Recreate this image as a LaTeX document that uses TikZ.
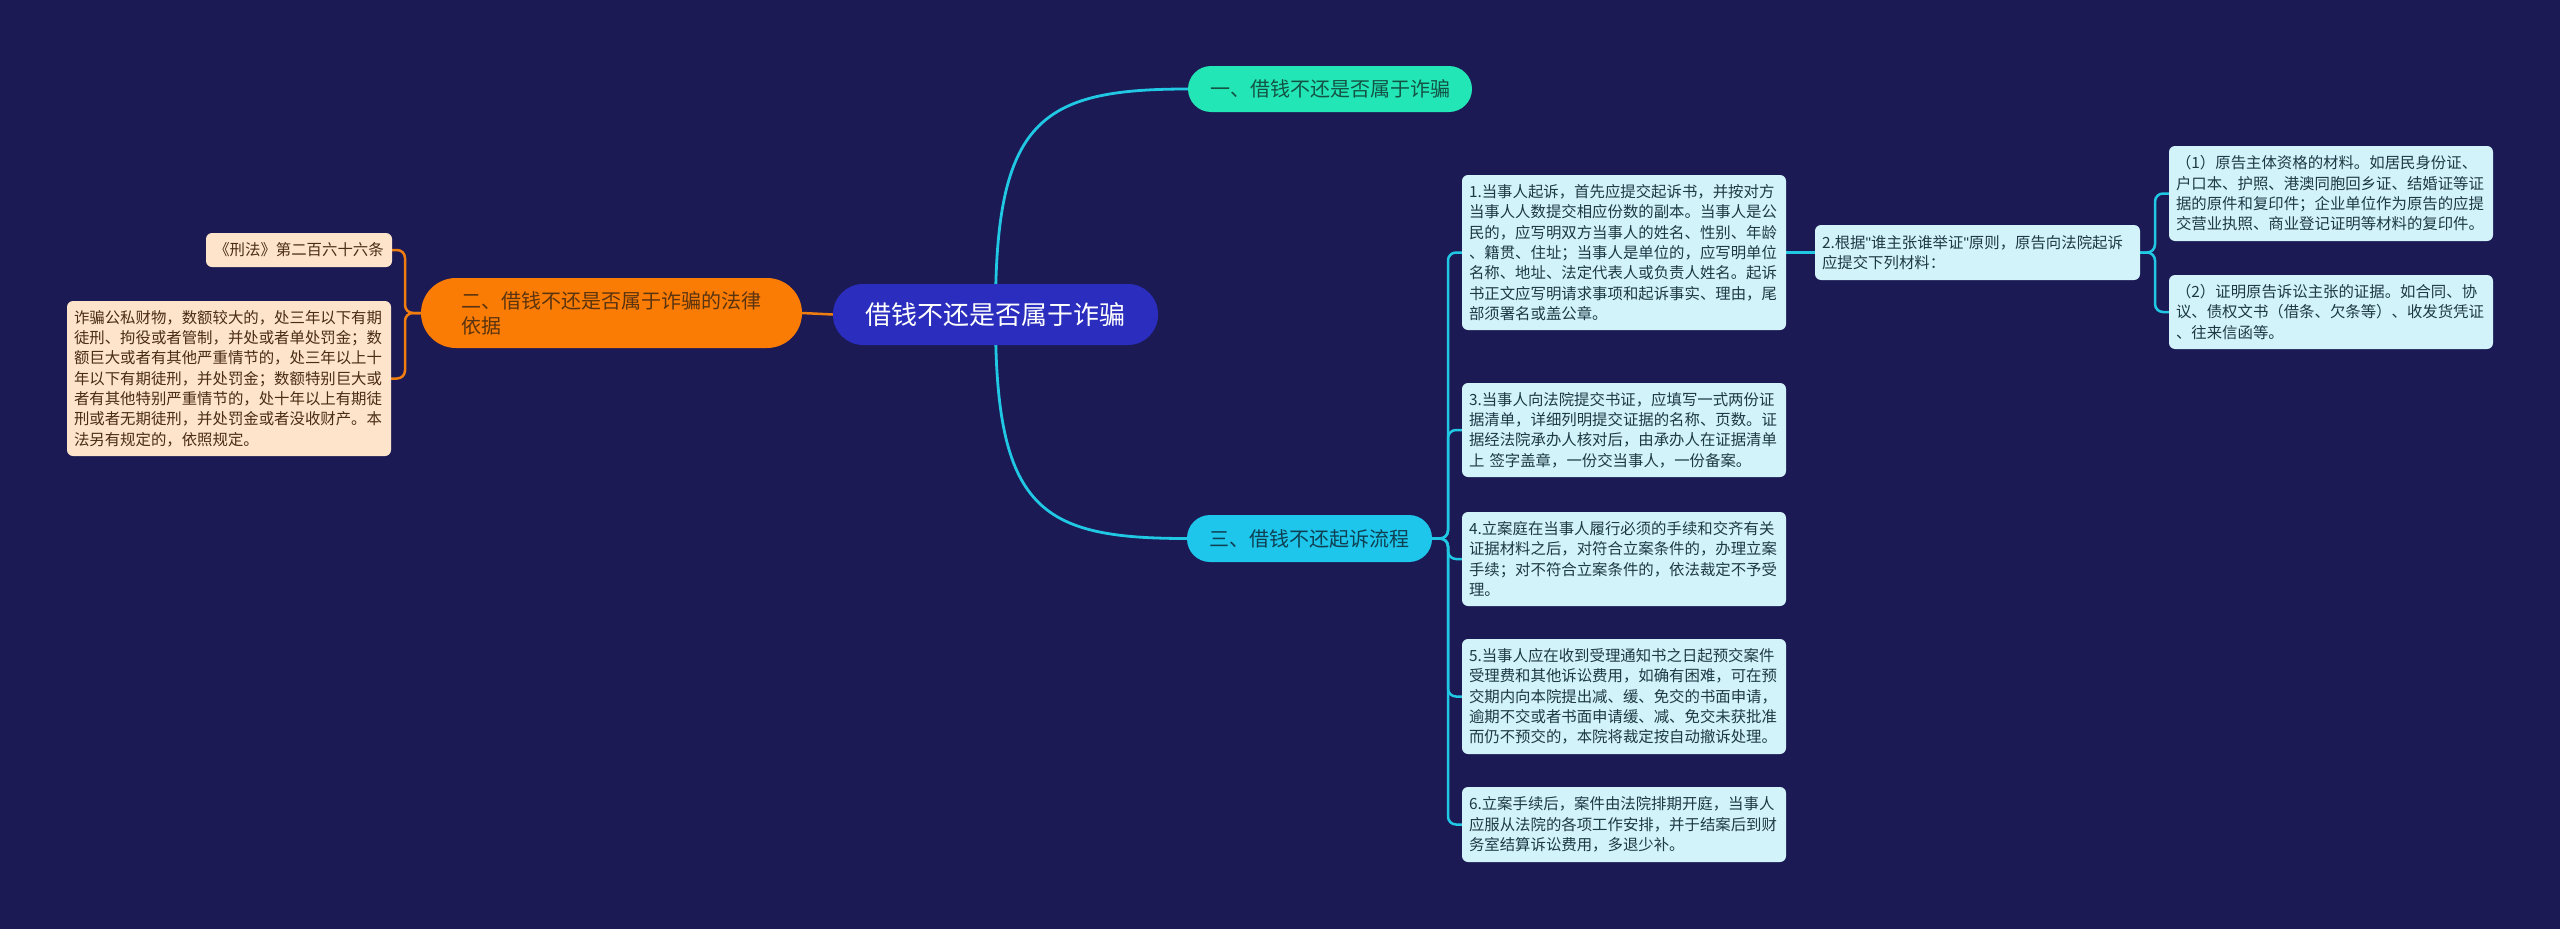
\documentclass[tikz,border=0pt]{standalone}
\usepackage{fontspec}
\setmainfont{Noto Sans CJK SC}
\newfontfamily\latinq[Ligatures=NoCommon]{Liberation Sans}
\definecolor{bgc}{HTML}{1B1A54}
\definecolor{rootc}{HTML}{2A2DBD}
\definecolor{tealc}{HTML}{22E6B5}
\definecolor{tealtext}{HTML}{145244}
\definecolor{cyanc}{HTML}{1DC6EA}
\definecolor{cyantext}{HTML}{0F3F52}
\definecolor{orangec}{HTML}{FB7C04}
\definecolor{orangetext}{HTML}{5A3410}
\definecolor{leafR}{HTML}{D3F3FB}
\definecolor{leafRtext}{HTML}{1D3A44}
\definecolor{leafL}{HTML}{FDE4CA}
\definecolor{leafLtext}{HTML}{4A2E14}
\definecolor{linec}{HTML}{21C8E4}
\definecolor{olinec}{HTML}{F07D10}
\newcommand{\sq}{{\latinq\symbol{34}}}
\pgfdeclarelayer{back}
\pgfdeclarelayer{bg}
\pgfsetlayers{back,bg,main}
\tikzset{
  rootbox/.style={fill=rootc, text=white, rounded corners=30pt, font=\fontsize{26}{31}\selectfont, minimum width=325pt, minimum height=61pt, inner sep=0pt},
  mainbr/.style={rounded corners=23pt, font=\fontsize{20}{25}\selectfont, inner sep=0pt},
  rleaf/.style={fill=leafR, text=leafRtext, rounded corners=6pt, font=\fontsize{15.4}{20.3}\selectfont, align=left, text width=310pt, inner xsep=7pt, inner ysep=0pt},
  lleaf/.style={fill=leafL, text=leafLtext, rounded corners=6pt, font=\fontsize{15.4}{20.3}\selectfont, align=left, inner xsep=7pt, inner ysep=0pt},
  cline/.style={draw=linec, line width=2.5pt, rounded corners=8pt},
  oline/.style={draw=olinec, line width=2.5pt, rounded corners=8pt},
}
\begin{document}
\begin{tikzpicture}[x=1pt,y=-1pt]
\begin{pgfonlayer}{back}
\fill[bgc] (0,0) rectangle (2560,929);
\end{pgfonlayer}
\useasboundingbox (0,0) rectangle (2560,929);

\node[rootbox] (root) at (995.5,314.5) {借钱不还是否属于诈骗};
\node[mainbr, fill=tealc, text=tealtext, minimum width=284pt, minimum height=46pt] (b1) at (1330,89) {一、借钱不还是否属于诈骗};
\node[mainbr, fill=cyanc, text=cyantext, minimum width=245pt, minimum height=47pt] (b3) at (1309.5,538.5) {三、借钱不还起诉流程};
\node[mainbr, rounded corners=35pt, fill=orangec, text=orangetext, minimum height=70pt, text width=300pt, align=left, inner xsep=40.5pt, font=\fontsize{20}{25}\selectfont] (b2) at (611.5,313) {二、借钱不还是否属于诈骗的法律\\依据};

\node[lleaf, minimum width=186pt, minimum height=34pt] (ls) at (299,250) {《刑法》第二百六十六条};
\node[lleaf, text width=310pt, minimum height=155pt] (lb) at (229,378.5) {诈骗公私财物，数额较大的，处三年以下有期\\徒刑、拘役或者管制，并处或者单处罚金；数\\额巨大或者有其他严重情节的，处三年以上十\\年以下有期徒刑，并处罚金；数额特别巨大或\\者有其他特别严重情节的，处十年以上有期徒\\刑或者无期徒刑，并处罚金或者没收财产。本\\法另有规定的，依照规定。};

\node[rleaf, minimum height=155pt] (r1) at (1624,252.5) {1.当事人起诉，首先应提交起诉书，并按对方\\当事人人数提交相应份数的副本。当事人是公\\民的，应写明双方当事人的姓名、性别、年龄\\、籍贯、住址；当事人是单位的，应写明单位\\名称、地址、法定代表人或负责人姓名。起诉\\书正文应写明请求事项和起诉事实、理由，尾\\部须署名或盖公章。};
\node[rleaf, text width=311pt, minimum height=55pt] (r2) at (1977.5,252.5) {2.根据\sq 谁主张谁举证\sq 原则，原告向法院起诉\\应提交下列材料：};
\node[rleaf, minimum height=95pt] (c1) at (2331,193.5) {（1）原告主体资格的材料。如居民身份证、\\户口本、护照、港澳同胞回乡证、结婚证等证\\据的原件和复印件；企业单位作为原告的应提\\交营业执照、商业登记证明等材料的复印件。};
\node[rleaf, minimum height=74pt] (c2) at (2331,312) {（2）证明原告诉讼主张的证据。如合同、协\\议、债权文书（借条、欠条等）、收发货凭证\\、往来信函等。};
\node[rleaf, minimum height=94pt] (r3) at (1624,430) {3.当事人向法院提交书证，应填写一式两份证\\据清单，详细列明提交证据的名称、页数。证\\据经法院承办人核对后，由承办人在证据清单\\上 签字盖章，一份交当事人，一份备案。};
\node[rleaf, minimum height=94pt] (r4) at (1624,559) {4.立案庭在当事人履行必须的手续和交齐有关\\证据材料之后，对符合立案条件的，办理立案\\手续；对不符合立案条件的，依法裁定不予受\\理。};
\node[rleaf, minimum height=115pt] (r5) at (1624,696.5) {5.当事人应在收到受理通知书之日起预交案件\\受理费和其他诉讼费用，如确有困难，可在预\\交期内向本院提出减、缓、免交的书面申请，\\逾期不交或者书面申请缓、减、免交未获批准\\而仍不预交的，本院将裁定按自动撤诉处理。};
\node[rleaf, minimum height=75pt] (r6) at (1624,824.5) {6.立案手续后，案件由法院排期开庭，当事人\\应服从法院的各项工作安排，并于结案后到财\\务室结算诉讼费用，多退少补。};

\coordinate (so) at (405,313);
\coordinate (s3) at (1448,538.5);
\coordinate (s2) at (2155,252.5);

\begin{pgfonlayer}{bg}
\draw[draw=linec, line width=2.8pt] (root.center) .. controls (995,120) and (1040,89) .. (b1.west);
\draw[draw=linec, line width=2.8pt] (root.center) .. controls (995,510) and (1040,538.5) .. (b3.west);
\draw[oline] (root.west) -- (b2.east);
\draw[oline] (b2.west) -- (so) |- (ls.east);
\draw[oline] (b2.west) -- (so) |- (lb.east);
\foreach \c in {r1,r3,r4,r5,r6} {
  \draw[cline] (b3.east) -- (s3) |- (\c.west);
}
\draw[cline] (r1.east) -- (r2.west);
\draw[cline] (r2.east) -- (s2) |- (c1.west);
\draw[cline] (r2.east) -- (s2) |- (c2.west);
\end{pgfonlayer}
\end{tikzpicture}
\end{document}
